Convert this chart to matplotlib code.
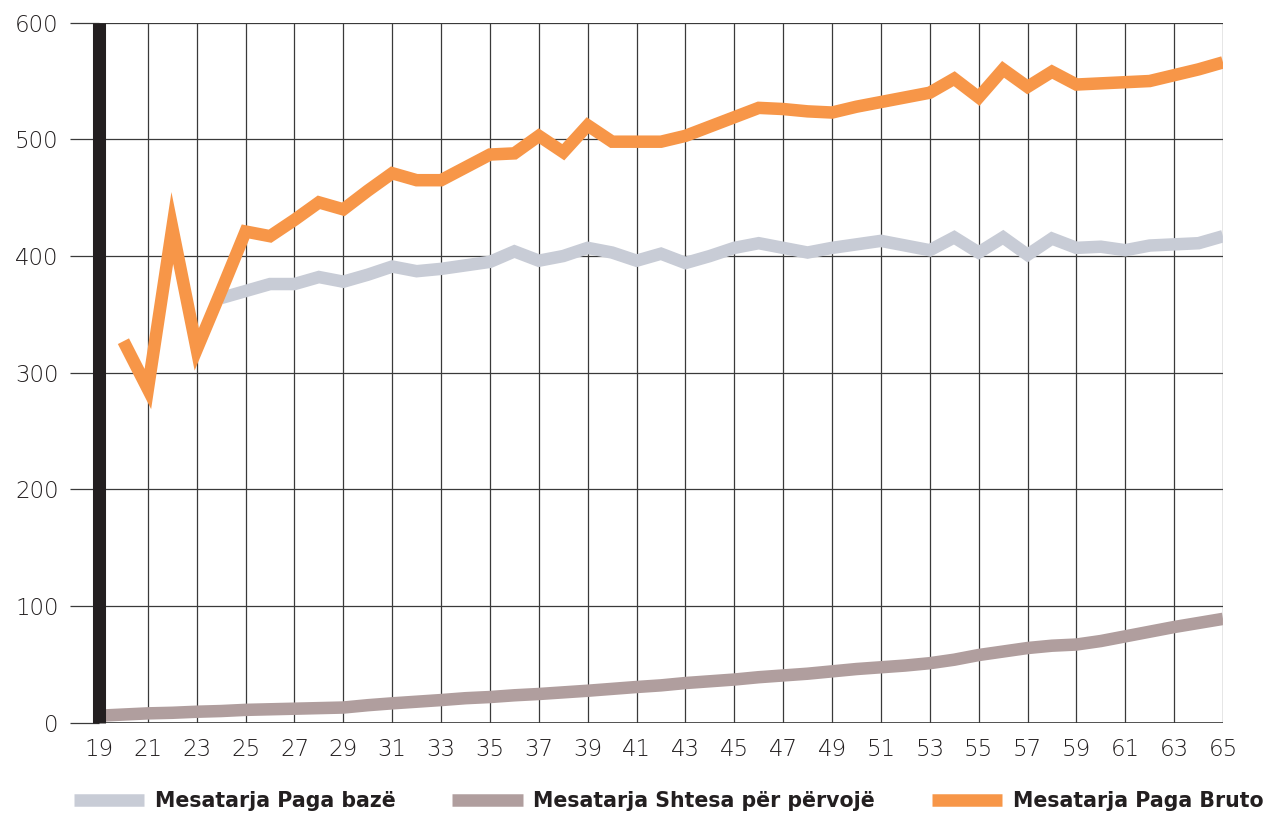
import matplotlib
matplotlib.use("Agg")
import matplotlib.pyplot as plt
import numpy as np

ages = list(range(19, 66))

paga_baze = [None, None, None, None, None,
             364, 370, 376, 376, 382, 378, 384, 391, 387, 389, 392, 395, 404, 396,
             400, 407, 403, 396, 402, 394, 400, 407, 411, 407, 403, 407, 410, 413,
             409, 405, 416, 403, 416, 401, 415, 407, 408, 405, 409, 410, 411, 417]

shtesa = [6, 7, 8, 8.5, 9.4, 10, 11, 11.5, 12, 12.5, 13, 15, 16.6, 18, 19.4, 21,
          22, 23.5, 24.6, 26, 27.4, 29, 30.6, 32, 34, 35.5, 37, 39, 40.5, 42, 44,
          46, 47.5, 49, 51, 54, 58, 61, 64, 66, 67, 70, 74, 78, 82, 85.5, 89]

paga_bruto = [None, 327, 286, 424, 320, 370, 421, 417, 431, 446, 440, 456, 471,
              465, 465, 476, 487, 488, 503, 489, 512, 498, 498, 498, 503, 511, 519,
              527, 526, 524, 523, 528, 532, 536, 540, 552, 536, 560, 545, 558, 547,
              548, 549, 550, 555, 560, 566]

labels = ["Mesatarja Paga bazë", "Mesatarja Shtesa për përvojë", "Mesatarja Paga Bruto"]
colors = ["#C8CCD6", "#B09E9E", "#F79648"]

xticks = list(range(19, 66, 2))
yticks = [0, 100, 200, 300, 400, 500, 600]

def arr(v):
    return np.array([np.nan if a is None else a for a in v], dtype=float)

fig = plt.figure(figsize=(12.66, 8.13), dpi=100)
ax = fig.add_axes([99 / 1266, 90.3 / 813, 1124 / 1266, 700 / 813])

lw = 9
ax.plot(ages, arr(paga_baze), color=colors[0], lw=lw, solid_joinstyle="miter",
        solid_capstyle="butt", label=labels[0], zorder=3)
ax.plot(ages, arr(shtesa), color=colors[1], lw=lw, solid_joinstyle="miter",
        solid_capstyle="butt", label=labels[1], zorder=3)
ax.plot(ages, arr(paga_bruto), color=colors[2], lw=lw, solid_joinstyle="miter",
        solid_capstyle="butt", label=labels[2], zorder=4)

ax.set_xlim(19, 65)
ax.set_ylim(0, 600)
ax.set_xticks(xticks)
ax.set_yticks(yticks)

gridc = "#3a3a3a"
ax.grid(True, color=gridc, lw=0.9, zorder=1)
ax.set_axisbelow(True)

for s in ["top", "right", "bottom"]:
    ax.spines[s].set_visible(False)
ax.spines["left"].set_linewidth(9.4)
ax.spines["left"].set_color("#231F20")
ax.spines["left"].set_capstyle("butt")
ax.spines["left"].set_zorder(6)
ax.axhline(0, color=gridc, lw=1.2, zorder=2)

ax.tick_params(axis="y", length=21, width=0.9, color=gridc, pad=8,
               labelsize=16.5, labelcolor="#231F20")
ax.tick_params(axis="x", length=0, pad=11, labelsize=16.5, labelcolor="#231F20")
for t in ax.get_xticklabels() + ax.get_yticklabels():
    t.set_fontfamily("DejaVu Sans")
    t.set_fontweight(200)

leg = fig.legend(loc="center", bbox_to_anchor=(0.528, 0.0148), ncol=3,
                 frameon=False, handlelength=3.45, handletextpad=0.5,
                 columnspacing=2.75,
                 prop={"family": "DejaVu Sans", "weight": "bold", "size": 14.8})
for t in leg.get_texts():
    t.set_color("#231F20")

fig.savefig("out.png", dpi=100)
